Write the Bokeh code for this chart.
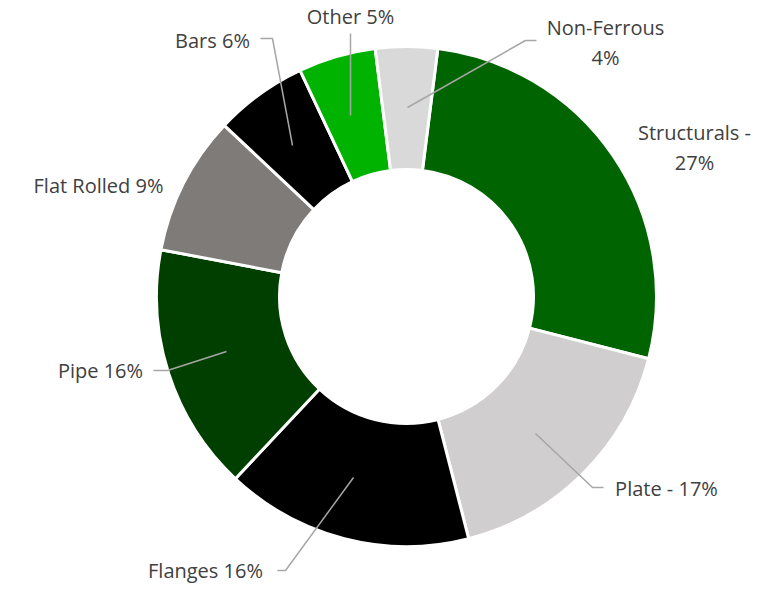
import math
from bokeh.plotting import figure
from bokeh.models import ColumnDataSource, Range1d
from bokeh.core.properties import value
from bokeh.embed import file_html
from bokeh.resources import INLINE

# ---- data ----
categories = ["Structurals", "Plate", "Flanges", "Pipe", "Flat Rolled", "Bars", "Other", "Non-Ferrous"]
shares = [27, 17, 16, 16, 9, 6, 5, 4]
labels = ["Structurals -\n27%", "Plate - 17%", "Flanges 16%", "Pipe 16%",
          "Flat Rolled 9%", "Bars 6%", "Other 5%", "Non-Ferrous\n4%"]
colors = ["#006400", "#D0CECE", "#000000", "#003F00", "#7F7B79", "#000000", "#00B300", "#D9D9D9"]

# ---- layout (image pixel coordinates) ----
W, H = 764, 583
CX, CY = 406, 296
R_OUT, R_IN = 250, 127
FIRST_ANGLE = 7.2  # degrees clockwise from 12 o'clock

label_x = [694, 666, 205, 100, 98, 212, 350, 605]
label_y = [147, 488, 570, 370, 185, 40, 16, 42]
leaders = [
    None,
    [(535, 433), (592, 487), (603, 487)],
    [(353, 477), (285, 570), (277, 570)],
    [(226, 351), (167, 370), (153, 370)],
    None,
    [(292, 145), (272, 38), (260, 38)],
    [(350, 115), (350, 33)],
    [(407, 107), (525, 40), (536, 40)],
]

total = float(sum(shares))
starts, ends = [], []
acc = FIRST_ANGLE
for v in shares:
    a0 = acc
    a1 = acc + 360.0 * v / total
    acc = a1
    starts.append(math.radians(90 - a1))
    ends.append(math.radians(90 - a0))

src = ColumnDataSource(dict(cat=categories, start=starts, end=ends, color=colors))

p = figure(width=W, height=H, output_backend="svg", toolbar_location=None,
           x_range=Range1d(0, W), y_range=Range1d(-H, 0),
           min_border=0, outline_line_color=None, background_fill_color="white",
           border_fill_color="white")
p.axis.visible = False
p.grid.visible = False

p.annular_wedge(x=CX, y=-CY, inner_radius=R_IN, outer_radius=R_OUT,
                start_angle="start", end_angle="end", direction="anticlock",
                fill_color="color", line_color="white", line_width=3, source=src)

for pts in leaders:
    if pts is None:
        continue
    p.line([q[0] for q in pts], [-q[1] for q in pts], line_color="#A6A6A6", line_width=1.5)

lsrc = ColumnDataSource(dict(x=label_x, y=[-v for v in label_y], t=labels))
p.text(x="x", y="y", text="t", source=lsrc, text_align="center", text_baseline="middle",
       text_font=value("Open Sans"), text_font_size="20px", text_color="#404040",
       text_line_height=1.1)

open("out.html", "w").write(file_html(p, INLINE))
